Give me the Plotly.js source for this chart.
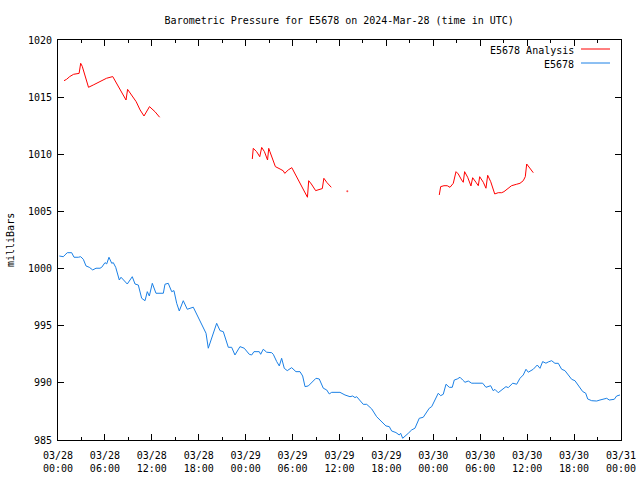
<!DOCTYPE html>
<html>
<head>
<meta charset="utf-8">
<script src="https://cdn.plot.ly/plotly-3.0.1.min.js"></script>
<style>html,body{margin:0;padding:0;background:#fff;}#chart{width:640px;height:480px;}</style>
</head>
<body>
<div id="chart"></div>
<script>
// Hours since 2024-03-28 00:00 UTC, and pressure in milliBars
const analysisHours = [0.77,1.1,1.5,2.0,2.7,2.9,3.1,3.5,3.9,4.5,5.4,6.2,7.0,7.5,8.1,8.7,8.9,9.4,10.0,10.5,11.0,11.7,12.4,13.0,
  18.0,
  24.85,24.88,24.97,25.4,25.8,26.05,26.4,26.8,26.95,27.1,27.5,27.8,28.4,28.8,29.0,29.45,29.9,30.3,30.9,31.6,31.9,32.06,32.4,32.95,33.6,33.8,34.0,34.4,34.95,
  36.0, 37.0, 38.0,
  48.76,48.94,49.36,49.78,50.13,50.55,50.9,51.19,51.62,51.83,52.0,52.39,52.81,53.03,53.45,53.75,53.93,54.39,54.73,54.95,55.34,55.85,56.3,56.74,57.03,57.45,58.0,58.66,59.08,59.5,59.76,59.94,60.36,60.78];
const analysisValues = [1016.44,1016.56,1016.8,1017.0,1017.08,1017.96,1017.7,1016.8,1015.86,1016.06,1016.35,1016.65,1016.8,1016.2,1015.48,1014.75,1015.68,1015.19,1014.6,1013.88,1013.35,1014.17,1013.73,1013.24,
  null,
  1009.59,1010.1,1010.52,1010.23,1009.79,1010.6,1010.23,1009.5,1010.52,1010.23,1009.5,1008.92,1008.71,1008.56,1008.33,1008.63,1008.83,1008.33,1007.6,1006.73,1006.24,1007.69,1007.4,1006.82,1006.94,1007.0,1007.9,1007.52,1007.11,
  null, 1006.76, null,
  1006.44,1007.17,1007.25,1007.25,1007.11,1007.46,1008.48,1008.28,1007.75,1007.55,1008.48,1007.99,1007.23,1007.95,1007.55,1007.25,1008.04,1007.55,1007.03,1008.16,1007.6,1006.53,1006.64,1006.64,1006.73,1006.94,1007.25,1007.38,1007.46,1007.69,1008.04,1009.15,1008.77,1008.39];

const obsHours = [0.17,0.68,0.9,1.19,1.75,2.05,2.6,2.9,3.24,3.58,4.0,4.44,4.86,5.37,5.59,6.01,6.23,6.52,6.87,7.07,7.38,7.84,8.06,8.44,8.86,9.5,9.85,10.27,10.7,11.13,11.42,11.68,12.06,12.53,13.47,13.68,14.1,14.54,14.83,15.18,15.51,16.02,16.53,17.3,17.94,18.5,18.93,19.22,19.73,20.29,20.72,21.14,21.78,22.21,22.63,23.27,23.82,24.46,
  24.77,25.06,25.74,25.92,26.25,26.69,27.33,27.53,27.97,28.3,28.6,28.94,29.32,29.88,30.43,30.95,31.29,31.59,32.01,32.57,32.99,33.41,33.93,34.36,34.69,35.0,36.06,36.7,37.34,37.69,37.98,38.2,38.53,39.04,39.48,40.12,40.75,41.39,41.94,42.37,42.67,43.22,43.64,43.82,44.08,44.8,45.23,45.65,46.2,46.71,47.06,47.48,
  47.79,48.21,48.63,48.94,49.27,49.62,50.04,50.42,50.68,51.06,51.41,51.75,52.05,52.47,52.9,53.32,53.75,54.31,54.73,55.33,55.66,55.88,56.3,56.74,57.29,57.58,58.15,58.66,59.08,59.5,59.85,60.14,60.78,61.29,61.64,61.98,62.4,62.7,63.13,63.55,63.98,64.41,64.83,65.26,65.69,66.11,66.53,67.1,67.48,67.74,68.25,68.89,69.31,69.73,70.17,70.5,71.14,71.44,71.87];
const obsValues = [1001.1,1001.04,1001.2,1001.39,1001.39,1000.99,1000.99,1001.04,1000.81,1000.23,1000.11,999.88,1000.03,1000.03,1000.11,1000.52,1000.41,1000.99,1000.46,1000.52,1000.11,999.0,999.24,998.94,998.65,999.29,998.65,998.56,997.4,997.19,997.98,997.6,998.71,997.84,997.84,998.63,998.71,997.98,998.07,996.96,996.29,997.19,996.44,996.62,995.74,994.87,994.34,993.03,994.04,995.21,994.57,994.48,993.11,993.11,992.44,993.17,993.03,992.5,
  992.44,992.73,992.73,992.5,992.94,992.68,992.64,992.5,991.86,991.48,992.15,991.27,991.07,991.33,990.98,990.98,990.6,989.67,989.73,990.11,990.4,990.34,989.53,989.38,989.03,989.17,989.17,988.94,988.79,988.85,988.71,988.79,988.5,988.12,988.12,987.72,987.04,986.6,986.23,986.17,985.79,985.65,985.44,985.59,985.15,985.59,985.88,986.03,986.9,986.99,987.34,987.78,
  987.92,988.5,989.09,988.88,989.0,989.88,989.61,989.61,990.25,990.34,990.49,990.25,990.05,990.16,989.97,989.97,989.97,989.97,989.61,989.75,989.31,989.43,989.14,989.38,989.67,989.58,989.97,989.88,990.4,990.69,991.19,990.93,991.19,991.56,991.27,991.86,991.72,991.83,991.94,991.71,991.71,991.19,991.07,990.69,990.31,990.19,989.82,989.24,989.1,988.59,988.44,988.41,988.5,988.56,988.65,988.5,988.56,988.85,988.94];

const seriesNames = ["E5678 Analysis", "E5678"];
const titleText = "Barometric Pressure for E5678 on 2024-Mar-28 (time in UTC)";
const yTitle = "milliBars";

const base = Date.UTC(2024, 2, 28, 0, 0, 0);
function toDate(h) {
  return new Date(base + Math.round(h * 3600000)).toISOString().replace('T', ' ').slice(0, 19);
}
const ax = analysisHours.map(toDate);
const ox = obsHours.map(toDate);
// isolated points get a tiny marker so they remain visible
const aSizes = analysisValues.map((v, i) => {
  if (v === null) return 0;
  const prev = i > 0 ? analysisValues[i - 1] : null;
  const next = i < analysisValues.length - 1 ? analysisValues[i + 1] : null;
  return (prev === null && next === null) ? 2 : 0;
});

const FONT = "DejaVu Sans Mono, Liberation Mono, monospace";
const traces = [
  {x: ax, y: analysisValues, mode: 'lines+markers', name: seriesNames[0],
   line: {color: '#ff0000', width: 1}, marker: {size: aSizes, color: '#ff0000', line: {width: 0}},
   connectgaps: false, showlegend: false},
  {x: ox, y: obsValues, mode: 'lines', name: seriesNames[1],
   line: {color: '#1a80e6', width: 1}, showlegend: false}
];

const layout = {
  width: 640, height: 480,
  margin: {l: 58, r: 19, t: 40, b: 40, pad: 0},
  paper_bgcolor: '#ffffff', plot_bgcolor: '#ffffff',
  font: {family: FONT, size: 10, color: '#000'},
  title: {text: titleText, font: {family: FONT, size: 10, color: '#000'},
          x: 0.53, xanchor: 'center', y: 1 - 20/480, yanchor: 'middle', xref: 'container', yref: 'container'},
  xaxis: {
    type: 'date',
    range: [toDate(0), toDate(72)],
    tick0: toDate(0), dtick: 6 * 3600000,
    tickformat: '%m/%d<br>%H:%M',
    ticks: 'inside', ticklen: 6, tickwidth: 1, tickcolor: '#000',
    ticklabelstandoff: 6,
    minor: {dtick: 3 * 3600000, ticks: 'inside', ticklen: 3, tickcolor: '#000', showgrid: false},
    showline: true, linecolor: '#000', linewidth: 1, mirror: 'allticks',
    showgrid: false, zeroline: false,
    tickfont: {family: FONT, size: 10, color: '#000'}
  },
  yaxis: {
    range: [985, 1020], dtick: 5, tick0: 985,
    ticks: 'inside', ticklen: 6, tickwidth: 1, tickcolor: '#000',
    ticklabelstandoff: 3,
    showline: true, linecolor: '#000', linewidth: 1, mirror: 'allticks',
    showgrid: false, zeroline: false,
    tickfont: {family: FONT, size: 10, color: '#000'}
  },
  annotations: [
    {text: yTitle, xref: 'paper', yref: 'paper', x: (10 - 58) / 563, y: 0.5, textangle: -90,
     showarrow: false, xanchor: 'center', yanchor: 'middle', font: {family: FONT, size: 10, color: '#000'}},
    {text: seriesNames[0], xref: 'paper', yref: 'paper', x: (576 - 58) / 563, y: 1 - 10 / 400,
     showarrow: false, xanchor: 'right', yanchor: 'middle', font: {family: FONT, size: 10, color: '#000'}},
    {text: seriesNames[1], xref: 'paper', yref: 'paper', x: (576 - 58) / 563, y: 1 - 24 / 400,
     showarrow: false, xanchor: 'right', yanchor: 'middle', font: {family: FONT, size: 10, color: '#000'}}
  ],
  shapes: [
    {type: 'line', xref: 'paper', yref: 'paper', x0: (581 - 58) / 563, x1: (610 - 58) / 563,
     y0: 1 - 9 / 400, y1: 1 - 9 / 400, line: {color: '#ff0000', width: 1}},
    {type: 'line', xref: 'paper', yref: 'paper', x0: (581 - 58) / 563, x1: (610 - 58) / 563,
     y0: 1 - 23 / 400, y1: 1 - 23 / 400, line: {color: '#1a80e6', width: 1}}
  ]
};

Plotly.newPlot('chart', traces, layout, {staticPlot: true, displayModeBar: false});
</script>
</body>
</html>
